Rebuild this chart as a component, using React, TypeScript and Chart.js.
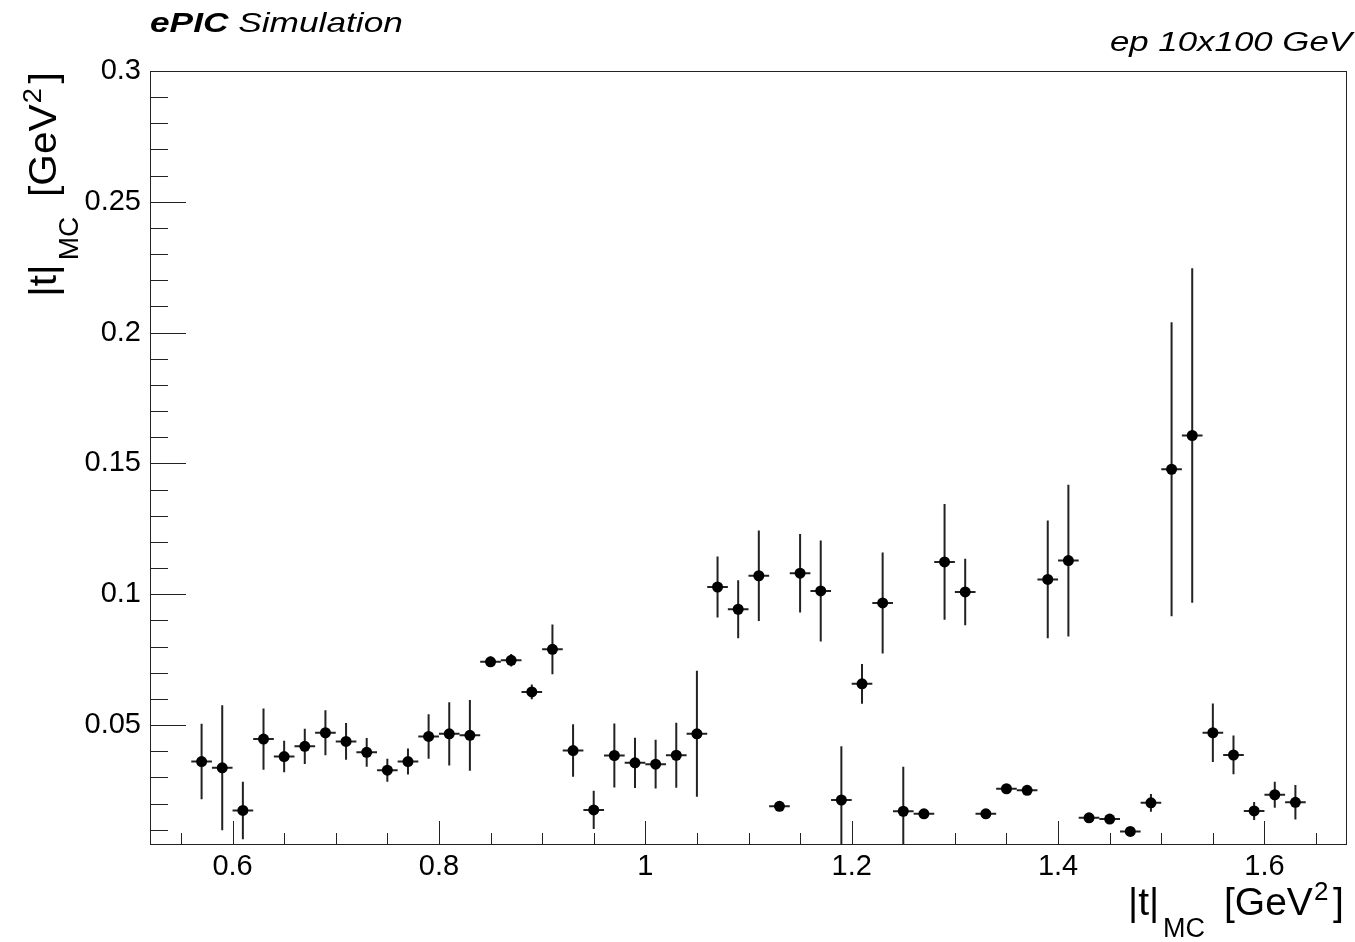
import React, { useEffect, useRef } from 'react';
import { Chart, registerables } from 'chart.js';

Chart.register(...registerables);

// ---- data ----
const binCenters = [
  0.57, 0.59, 0.61, 0.63, 0.65, 0.67, 0.69, 0.71, 0.73, 0.75,
  0.77, 0.79, 0.81, 0.83, 0.85, 0.87, 0.89, 0.91, 0.93, 0.95,
  0.97, 0.99, 1.01, 1.03, 1.05, 1.07, 1.09, 1.11, 1.13, 1.15,
  1.17, 1.19, 1.21, 1.23, 1.25, 1.27, 1.29, 1.31, 1.33, 1.35,
  1.37, 1.39, 1.41, 1.43, 1.45, 1.47, 1.49, 1.51, 1.53, 1.55,
  1.57, 1.59, 1.61, 1.63,
];
const tValues = [
  0.0361, 0.0337, 0.0174, 0.0447, 0.0380, 0.0419, 0.0471, 0.0438, 0.0396, 0.0328,
  0.0361, 0.0457, 0.0467, 0.0461, 0.0742, 0.0748, 0.0627, 0.0790, 0.0403, 0.0176,
  0.0384, 0.0356, 0.0351, 0.0385, 0.0467, 0.1028, 0.0943, 0.1071, 0.0190, 0.1081,
  0.1013, 0.0214, 0.0658, 0.0967, 0.0171, 0.0161, 0.1124, 0.1009, 0.0161, 0.0257,
  0.0251, 0.1057, 0.1129, 0.0146, 0.0141, 0.0094, 0.0203, 0.1478, 0.1607, 0.0471,
  0.0386, 0.0172, 0.0234, 0.0205,
];
const tErrors = [
  0.0144, 0.0239, 0.0110, 0.0117, 0.0060, 0.0067, 0.0086, 0.0070, 0.0055, 0.0044,
  0.0050, 0.0085, 0.0121, 0.0135, 0.0020, 0.0024, 0.0028, 0.0095, 0.0100, 0.0073,
  0.0122, 0.0096, 0.0093, 0.0124, 0.0241, 0.0117, 0.0111, 0.0173, 0.0010, 0.0150,
  0.0193, 0.0205, 0.0076, 0.0193, 0.0170, 0.0010, 0.0221, 0.0127, 0.0010, 0.0015,
  0.0013, 0.0225, 0.0290, 0.0010, 0.0012, 0.0008, 0.0034, 0.0562, 0.0639, 0.0112,
  0.0074, 0.0034, 0.0050, 0.0066,
];
const binHalfWidth = 0.01;

const xMajorTicks = [0.6, 0.8, 1.0, 1.2, 1.4, 1.6];
const xMajorLabels = ['0.6', '0.8', '1', '1.2', '1.4', '1.6'];
const xMinorTicks = [
  0.55, 0.65, 0.7, 0.75, 0.85, 0.9, 0.95, 1.05, 1.1, 1.15,
  1.25, 1.3, 1.35, 1.45, 1.5, 1.55, 1.65,
];
const yMajorTicks = [0.05, 0.1, 0.15, 0.2, 0.25, 0.3];
const yMajorLabels = ['0.05', '0.1', '0.15', '0.2', '0.25', '0.3'];
const yMinorTicks = [
  0.01, 0.02, 0.03, 0.04, 0.06, 0.07, 0.08, 0.09, 0.11, 0.12,
  0.13, 0.14, 0.16, 0.17, 0.18, 0.19, 0.21, 0.22, 0.23, 0.24,
  0.26, 0.27, 0.28, 0.29,
];

const xMin = 0.52;
const xMax = 1.68;
const yMin = 0.0042;
const yMax = 0.3;

const FONT = "'Liberation Sans', Arial, Helvetica, sans-serif";

function isIn(list: number[], v: number) {
  return list.findIndex((m) => Math.abs(m - v) < 1e-6);
}

function drawAxisTitle(ctx: CanvasRenderingContext2D) {
  // "|t|_MC [GeV^2]" with baseline at 0 and right end at 0
  const main = `39px ${FONT}`;
  const sub = `27px ${FONT}`;
  const sup = `26px ${FONT}`;
  ctx.font = main;
  ctx.fillText('|t|', -219, 0);
  ctx.fillText('[GeV', -123, 0);
  ctx.fillText(']', -14, 0);
  ctx.font = sub;
  ctx.fillText('MC', -184, 22);
  ctx.font = sup;
  ctx.fillText('2', -33, -15);
}

const rootPlugin = {
  id: 'rootStyle',
  beforeDatasetsDraw(chart: any) {
    const ctx: CanvasRenderingContext2D = chart.ctx;
    const xs = chart.scales.x;
    const ys = chart.scales.y;
    const a = chart.chartArea;
    ctx.save();
    ctx.beginPath();
    ctx.rect(a.left, a.top, a.right - a.left, a.bottom - a.top);
    ctx.clip();
    ctx.strokeStyle = '#222';
    ctx.lineWidth = 2;
    for (let i = 0; i < binCenters.length; i++) {
      const px = xs.getPixelForValue(binCenters[i]);
      const py = ys.getPixelForValue(tValues[i]);
      const x0 = xs.getPixelForValue(binCenters[i] - binHalfWidth);
      const x1 = xs.getPixelForValue(binCenters[i] + binHalfWidth);
      const y0 = ys.getPixelForValue(tValues[i] + tErrors[i]);
      const y1 = ys.getPixelForValue(tValues[i] - tErrors[i]);
      ctx.beginPath();
      ctx.moveTo(x0, py);
      ctx.lineTo(x1, py);
      ctx.moveTo(px, y0);
      ctx.lineTo(px, y1);
      ctx.stroke();
    }
    ctx.restore();
  },
  afterDraw(chart: any) {
    const ctx: CanvasRenderingContext2D = chart.ctx;
    const xs = chart.scales.x;
    const ys = chart.scales.y;
    const a = chart.chartArea;
    ctx.save();
    ctx.strokeStyle = '#222';
    ctx.lineWidth = 1;
    // frame
    ctx.strokeRect(Math.round(a.left) + 0.5, Math.round(a.top) + 0.5,
      Math.round(a.right - a.left) - 1, Math.round(a.bottom - a.top) - 1);
    // x ticks
    ctx.beginPath();
    for (const v of [...xMajorTicks, ...xMinorTicks]) {
      const px = Math.round(xs.getPixelForValue(v)) + 0.5;
      const len = isIn(xMajorTicks, v) >= 0 ? 24 : 12;
      ctx.moveTo(px, a.bottom);
      ctx.lineTo(px, a.bottom - len);
    }
    // y ticks
    for (const v of [...yMajorTicks, ...yMinorTicks]) {
      const py = Math.round(ys.getPixelForValue(v)) + 0.5;
      const len = isIn(yMajorTicks, v) >= 0 ? 36 : 18;
      ctx.moveTo(a.left, py);
      ctx.lineTo(a.left + len, py);
    }
    ctx.stroke();

    ctx.fillStyle = '#000';
    ctx.textBaseline = 'alphabetic';
    ctx.textAlign = 'left';
    // x axis title
    ctx.save();
    ctx.translate(a.right, 915);
    drawAxisTitle(ctx);
    ctx.restore();
    // y axis title
    ctx.save();
    ctx.translate(56, a.top - 2);
    ctx.rotate(-Math.PI / 2);
    ctx.scale(1.04, 1);
    drawAxisTitle(ctx);
    ctx.restore();

    // top-left label
    ctx.save();
    ctx.translate(150, 32);
    ctx.scale(1.26, 1);
    ctx.font = `italic bold 28px ${FONT}`;
    ctx.fillText('ePIC', 0, 0);
    const wE = ctx.measureText('ePIC').width;
    ctx.font = `italic 28px ${FONT}`;
    const wSp = ctx.measureText(' ').width;
    ctx.fillText('Simulation', wE + wSp, 0);
    ctx.restore();

    // top-right label
    ctx.save();
    ctx.font = `italic 27px ${FONT}`;
    const txt = 'ep 10x100 GeV';
    const w = ctx.measureText(txt).width * 1.29;
    ctx.translate(1352 - w, 51);
    ctx.scale(1.29, 1);
    ctx.fillText(txt, 0, 0);
    ctx.restore();

    ctx.restore();
  },
};

export default function App() {
  const ref = useRef<HTMLCanvasElement | null>(null);
  useEffect(() => {
    if (!ref.current) return;
    const points = binCenters.map((x, i) => ({ x, y: tValues[i] }));
    const xTicks = [...xMajorTicks, ...xMinorTicks].sort((p, q) => p - q);
    const yTicks = [...yMajorTicks, ...yMinorTicks].sort((p, q) => p - q);
    const chart = new Chart(ref.current, {
      type: 'scatter',
      data: {
        datasets: [
          {
            data: points,
            pointRadius: 5.5,
            pointHoverRadius: 5.5,
            pointBackgroundColor: '#000',
            pointBorderColor: '#000',
            pointBorderWidth: 0,
            showLine: false,
          },
        ],
      },
      options: {
        animation: false,
        responsive: false,
        events: [],
        layout: { padding: { top: 71, right: 8, left: 0, bottom: 0 } },
        plugins: { legend: { display: false }, tooltip: { enabled: false } },
        scales: {
          x: {
            type: 'linear',
            min: xMin,
            max: xMax,
            grid: { display: false, drawTicks: false },
            border: { display: false },
            afterBuildTicks: (scale: any) => {
              scale.ticks = xTicks.map((v) => ({ value: v }));
            },
            afterFit: (scale: any) => {
              scale.height = 97;
            },
            ticks: {
              autoSkip: false,
              maxRotation: 0,
              minRotation: 0,
              padding: 5,
              color: '#000',
              font: { family: FONT, size: 29 },
              callback: (v: any) => {
                const k = isIn(xMajorTicks, Number(v));
                return k >= 0 ? xMajorLabels[k] : '';
              },
            },
          },
          y: {
            type: 'linear',
            min: yMin,
            max: yMax,
            grid: { display: false, drawTicks: false },
            border: { display: false },
            afterBuildTicks: (scale: any) => {
              scale.ticks = yTicks.map((v) => ({ value: v }));
            },
            afterFit: (scale: any) => {
              scale.width = 150;
            },
            ticks: {
              autoSkip: false,
              padding: 9,
              color: '#000',
              font: { family: FONT, size: 29 },
              callback: (v: any) => {
                const k = isIn(yMajorTicks, Number(v));
                return k >= 0 ? yMajorLabels[k] : '';
              },
            },
          },
        },
      },
      plugins: [rootPlugin],
    } as any);
    return () => chart.destroy();
  }, []);
  return (
    <div style={{ position: 'absolute', left: 0, top: 0, width: 1355, height: 942, background: '#fff' }}>
      <canvas ref={ref} width={1355} height={942} style={{ display: 'block', width: 1355, height: 942 }} />
    </div>
  );
}
